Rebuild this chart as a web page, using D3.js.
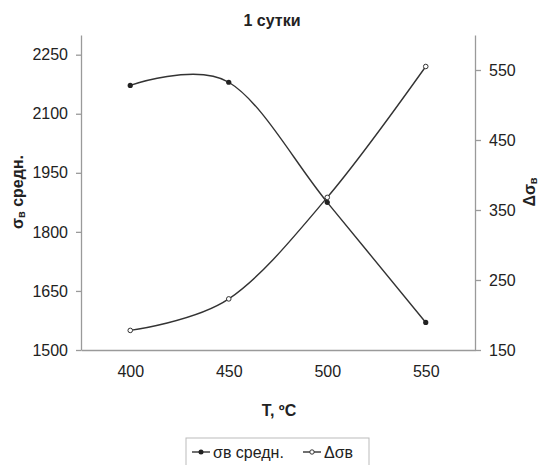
<!DOCTYPE html>
<html>
<head>
<meta charset="utf-8">
<script src="https://cdn.jsdelivr.net/npm/d3@7"></script>
<style>
  body { margin: 0; background: #fff; }
  text { font-family: "Liberation Sans", Arial, sans-serif; fill: #222; }
</style>
</head>
<body>
<div id="figure"></div>
<script>
// data
const temps = [400, 450, 500, 550];
const sigmaMean = [2172, 2180, 1875, 1570];
const deltaSigma = [178, 223, 368, 555];
const xTicks = [400, 450, 500, 550];
const leftTicks = [1500, 1650, 1800, 1950, 2100, 2250];
const rightTicks = [150, 250, 350, 450, 550];

const W = 544, H = 465;
const margin = { top: 35, left: 81, right: 69, bottom: 115 };
const width = W - margin.left - margin.right,
      height = H - margin.top - margin.bottom;

const svg = d3.select("#figure").append("svg")
  .attr("width", W).attr("height", H);

const g = svg.append("g")
  .attr("transform", "translate(" + margin.left + "," + margin.top + ")");

const x = d3.scaleLinear().domain([375, 575]).range([0, width]);
const yL = d3.scaleLinear().domain([1500, 2300]).range([height, 0]);
const yR = d3.scaleLinear().domain([150, 600]).range([height, 0]);

// axes
const axL = g.append("g")
  .call(d3.axisLeft(yL).tickValues(leftTicks).tickFormat(d3.format("d"))
    .tickSize(5).tickPadding(8).tickSizeOuter(0));
const axR = g.append("g")
  .attr("transform", "translate(" + width + ",0)")
  .call(d3.axisRight(yR).tickValues(rightTicks).tickFormat(d3.format("d"))
    .tickSize(6).tickPadding(8).tickSizeOuter(0));
const axB = g.append("g")
  .attr("transform", "translate(0," + height + ")")
  .call(d3.axisBottom(x).tickValues(xTicks).tickFormat(d3.format("d"))
    .tickSize(0).tickPadding(16).tickSizeOuter(0));

[axL, axR, axB].forEach(a => {
  a.selectAll("path, line").attr("stroke", "#9a9a9a").attr("stroke-width", 1.3);
  a.selectAll("text").attr("font-size", 16).attr("fill", "#222")
   .style("font-family", "'Liberation Sans', Arial, sans-serif");
});

// series
const ptsS = temps.map((t, i) => [x(t), yL(sigmaMean[i])]);
const ptsD = temps.map((t, i) => [x(t), yR(deltaSigma[i])]);
const line = d3.line().curve(d3.curveCardinal.tension(0));

g.append("path").attr("d", line(ptsS))
  .attr("fill", "none").attr("stroke", "#333").attr("stroke-width", 1.4);
g.append("path").attr("d", line(ptsD))
  .attr("fill", "none").attr("stroke", "#333").attr("stroke-width", 1.4);

g.selectAll(".ms").data(ptsS).join("circle")
  .attr("cx", d => d[0]).attr("cy", d => d[1]).attr("r", 2.6)
  .attr("fill", "#222");
g.selectAll(".md").data(ptsD).join("circle")
  .attr("cx", d => d[0]).attr("cy", d => d[1]).attr("r", 2.3)
  .attr("fill", "#fff").attr("stroke", "#333").attr("stroke-width", 1);

// titles
svg.append("text").attr("x", 272).attr("y", 26)
  .attr("text-anchor", "middle").attr("font-size", 16).attr("font-weight", "bold")
  .text("1 сутки");

svg.append("text").attr("x", 279).attr("y", 416)
  .attr("text-anchor", "middle").attr("font-size", 16).attr("font-weight", "bold")
  .text("Т, ºC");

const lt = svg.append("text")
  .attr("transform", "translate(23,192) rotate(-90)")
  .attr("text-anchor", "middle").attr("font-size", 16).attr("font-weight", "bold");
lt.append("tspan").text("σ");
lt.append("tspan").attr("font-size", 11).attr("dy", 2).text("в");
lt.append("tspan").attr("dy", -2).text(" средн.");

const rt = svg.append("text")
  .attr("transform", "translate(535,192) rotate(-90)")
  .attr("text-anchor", "middle").attr("font-size", 16).attr("font-weight", "bold");
rt.append("tspan").text("Δσ");
rt.append("tspan").attr("font-size", 11).attr("dy", 2).text("в");

// legend
const leg = svg.append("g");
leg.append("rect").attr("x", 186).attr("y", 438).attr("width", 183).attr("height", 40)
  .attr("fill", "#fff").attr("stroke", "#bbb").attr("stroke-width", 1);
const items = [
  { label: "σв средн.", x0: 192, open: false },
  { label: "Δσв", x0: 303, open: true }
];
items.forEach(it => {
  leg.append("line").attr("x1", it.x0).attr("x2", it.x0 + 18)
    .attr("y1", 452).attr("y2", 452).attr("stroke", "#333").attr("stroke-width", 1.4);
  leg.append("circle").attr("cx", it.x0 + 9).attr("cy", 452)
    .attr("r", it.open ? 2.2 : 2.5)
    .attr("fill", it.open ? "#fff" : "#222").attr("stroke", "#333").attr("stroke-width", it.open ? 1 : 0);
  leg.append("text").attr("x", it.x0 + 21).attr("y", 458)
    .attr("font-size", 16).text(it.label);
});
</script>
</body>
</html>
